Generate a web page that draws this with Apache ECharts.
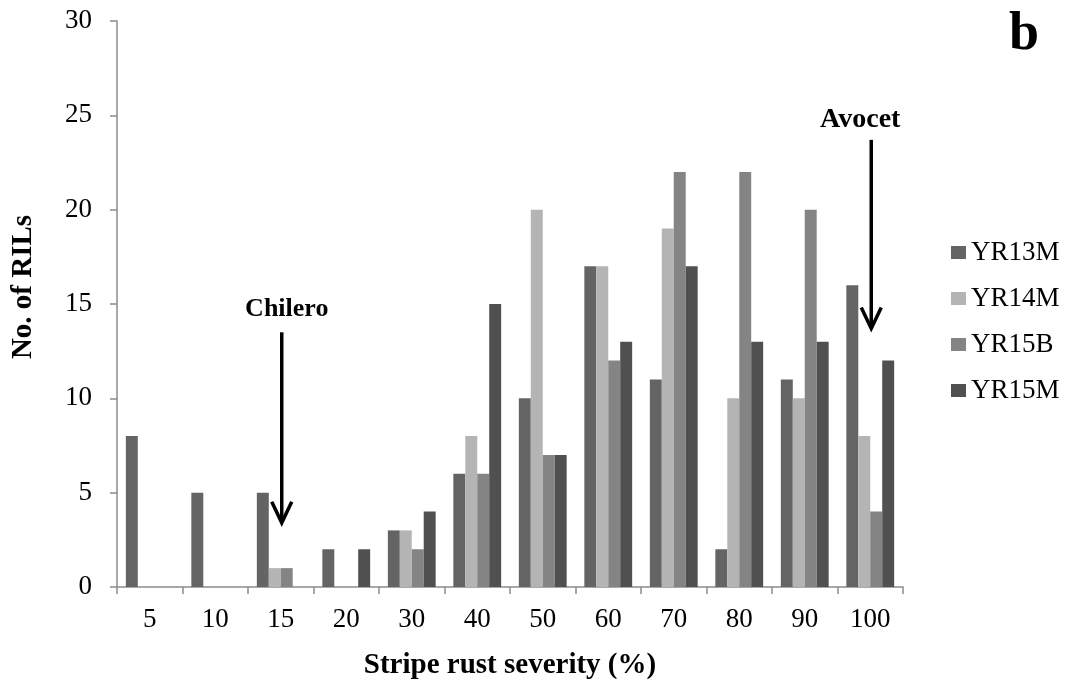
<!DOCTYPE html>
<html>
<head>
<meta charset="utf-8">
<script src="https://cdn.jsdelivr.net/npm/echarts@6/dist/echarts.min.js"></script>
<style>
html,body{margin:0;padding:0;background:#fff;}
#chart{width:1065px;height:689px;}
</style>
</head>
<body>
<div id="chart"></div>
<script>
var categories = ['5','10','15','20','30','40','50','60','70','80','90','100'];
var yr13m = [8,5,5,2,3,6,10,17,11,2,11,16];
var yr14m = [0,0,1,0,3,8,20,17,19,10,10,8];
var yr15b = [0,0,1,0,2,6,7,12,22,22,20,4];
var yr15m = [0,0,0,2,4,15,7,13,17,13,13,12];
var seriesNames = ['YR13M','YR14M','YR15B','YR15M'];
var seriesColors = ['#646464','#b4b4b4','#848484','#505050'];
var yTicks = {min:0, max:30, interval:5};
// annotations: label, category, arrow start value, arrow tip value, label value
var annotLabels = ['Chilero','Avocet'];
var annotCategories = ['15','100'];
var annotFrom = [13.5, 23.7];
var annotTo = [3.4, 13.7];
var annotLabelAt = [14.7, 24.75];

var FONT = '"Liberation Serif","Times New Roman",serif';
var chart = echarts.init(document.getElementById('chart'), null, {renderer:'canvas'});
var data = [yr13m, yr14m, yr15b, yr15m];
var series = seriesNames.map(function(n,i){
  return {
    name:n, type:'bar', data:data[i], barGap:'0%', barCategoryGap:'27%',
    itemStyle:{color:seriesColors[i]}
  };
});
chart.setOption({
  animation:false,
  backgroundColor:'#fff',
  grid:{left:117, right:162, top:21, bottom:102, containLabel:false},
  title:{text:'b', right:21, top:3, textStyle:{fontFamily:FONT, fontWeight:'bold', fontSize:54, color:'#000'}},
  legend:{
    orient:'vertical', left:946, top:234, itemWidth:15, itemHeight:13, itemGap:19,
    icon:'rect', textStyle:{fontFamily:FONT, fontSize:27, color:'#000'},
    data:seriesNames
  },
  xAxis:{
    type:'category', data:categories,
    name:'Stripe rust severity (%)', nameLocation:'middle', nameGap:64,
    nameTextStyle:{fontFamily:FONT, fontWeight:'bold', fontSize:29, color:'#000'},
    axisLine:{lineStyle:{color:'#8c8c8c', width:1.5}},
    axisTick:{show:true, length:7, alignWithLabel:false, lineStyle:{color:'#8c8c8c', width:1.5}},
    axisLabel:{fontFamily:FONT, fontSize:27, color:'#000', margin:19, interval:0}
  },
  yAxis:{
    type:'value', min:yTicks.min, max:yTicks.max, interval:yTicks.interval,
    name:'No. of RILs', nameLocation:'middle', nameGap:79,
    nameTextStyle:{fontFamily:FONT, fontWeight:'bold', fontSize:29, color:'#000', padding:[0,0,0,34]},
    axisLine:{show:true, lineStyle:{color:'#8c8c8c', width:1.5}},
    axisTick:{show:true, length:7, lineStyle:{color:'#8c8c8c', width:1.5}},
    splitLine:{show:false},
    axisLabel:{fontFamily:FONT, fontSize:27, color:'#000', margin:25}
  },
  series:series
});

(function(){
  var graphics = [];
  var labShift = [6, -10];
  for (var i=0;i<annotLabels.length;i++){
    var p0 = chart.convertToPixel({gridIndex:0}, [annotCategories[i], annotFrom[i]]);
    var tip = chart.convertToPixel({gridIndex:0}, [annotCategories[i], annotTo[i]]);
    var lab = chart.convertToPixel({gridIndex:0}, [annotCategories[i], annotLabelAt[i]]);
    graphics.push({type:'rect', id:'shaft'+i, shape:{x:tip[0]-0.75, y:p0[1], width:3.5, height:(tip[1]-2)-p0[1]}, style:{fill:'#000'}, z:10});
    graphics.push({type:'polyline', id:'head'+i, shape:{points:[[tip[0]-9,tip[1]-21],[tip[0]+1,tip[1]],[tip[0]+11,tip[1]-21]]}, style:{stroke:'#000', lineWidth:3.5, fill:null}, z:10});
    graphics.push({type:'text', id:'lab'+i, x:lab[0]+labShift[i], y:lab[1], style:{text:annotLabels[i], fontFamily:FONT, fontWeight:'bold', fontSize:(i===1?28:26), fill:'#000', align:'center', verticalAlign:'middle'}, z:10});
  }
  chart.setOption({graphic:graphics});
})();
</script>
</body>
</html>
